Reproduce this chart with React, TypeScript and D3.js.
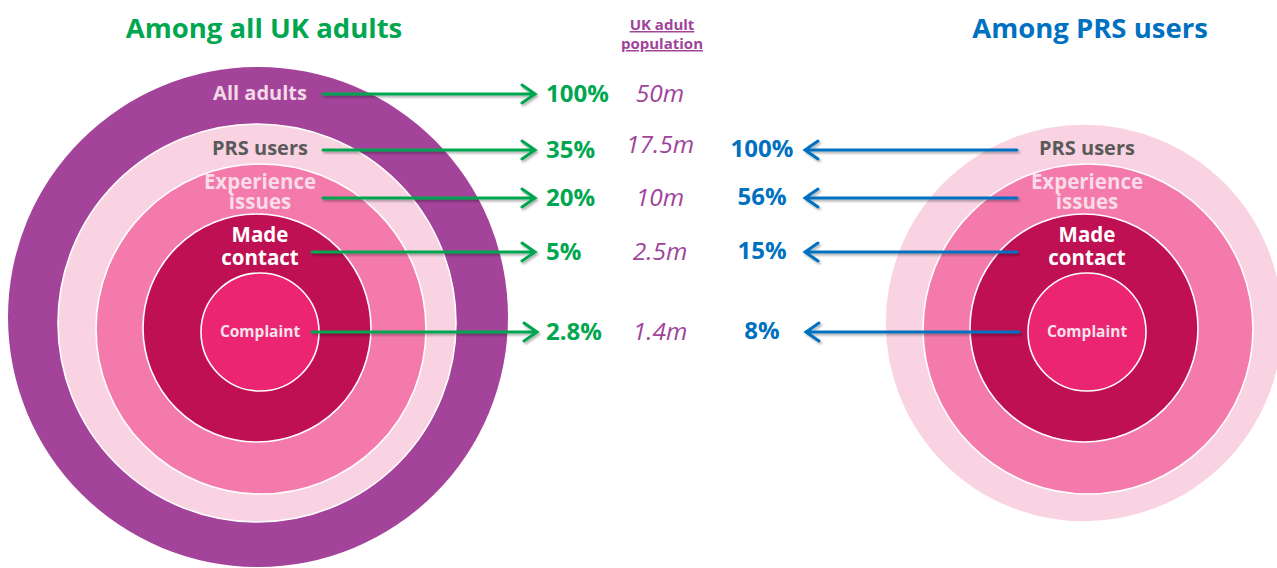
import React from "react";
import * as d3 from "d3";

// rings, from outer to inner
const ringLabels = [["All adults"], ["PRS users"], ["Experience", "issues"], ["Made", "contact"], ["Complaint"]];
const pctAllAdults = [100, 35, 20, 5, 2.8];
const populationM = [50, 17.5, 10, 2.5, 1.4];
const pctPrsUsers = [null, 100, 56, 15, 8];

const W = 1277;
const H = 568;
const FONT = "'Open Sans', 'DejaVu Sans', sans-serif";

// layout (hand placed, like the slide)
const ringR = [250, 199, 165, 114, 59];
const ringDx = [-2, -3, 1, -3, 0];
const ringDy = [-15, -9, -3, -4, 0];
const ringFill = ["#A3449A", "#FAD3E2", "#F37AAA", "#BE1052", "#EC2573"];
const labelFill = ["#F3D9E8", "#5A5A5A", "#FADCE8", "#FFFFFF", "#F8E2EC"];
const labelSize = [20, 20, 20.5, 20.5, 15.5];
const labelBase = [[100], [155], [189, 209], [242, 265], [337]];
const rowY = [94, 150, 198, 252, 332];
const textBase = [102, 158, 206, 260, 340];
const greenStart = [323, 323, 323, 312, 312];

const LEFT_CX = 260;
const RIGHT_CX = 1087;
const CY = 332;
const GREEN = "#00A650";
const BLUE = "#0070C0";
const PURPLE = "#A0449B";

const arrow = (x0: number, x1: number, y: number) => {
  const dir = x1 > x0 ? 1 : -1;
  const p = d3.path();
  p.moveTo(x0, y);
  p.lineTo(x1 - dir * 1.5, y);
  p.moveTo(x1 - dir * 13, y - 9);
  p.lineTo(x1, y);
  p.lineTo(x1 - dir * 13, y + 9);
  return p.toString();
};

const Rings = ({ cx, from }: { cx: number; from: number }) => (
  <g>
    {ringR.map((r, i) =>
      i < from ? null : (
        <circle
          key={i}
          cx={cx + ringDx[i]}
          cy={CY + ringDy[i]}
          r={r}
          fill={ringFill[i]}
          stroke={i === 0 ? "none" : "#fff"}
          strokeWidth={1.6}
        />
      )
    )}
    {ringLabels.map((lines, i) =>
      i < from ? null : (
        <text
          key={i}
          textAnchor="middle"
          fontFamily={FONT}
          fontWeight="bold"
          fontSize={labelSize[i]}
          fill={labelFill[i]}
        >
          {lines.map((l, j) => (
            <tspan key={j} x={cx} y={labelBase[i][j]}>
              {l}
            </tspan>
          ))}
        </text>
      )
    )}
  </g>
);

export default function App() {
  const fmtPct = (v: number) => `${v}%`;
  const fmtM = (v: number) => `${v}m`;

  return (
    <div style={{ position: "fixed", left: 0, top: 0 }}>
      <svg width={W} height={H} style={{ display: "block", background: "#fff" }}>
        <defs>
          <filter id="shadow" x="-10%" y="-50%" width="120%" height="250%">
            <feDropShadow dx="1.5" dy="2" stdDeviation="1.2" floodColor="#000" floodOpacity="0.3" />
          </filter>
        </defs>

        <Rings cx={LEFT_CX} from={0} />
        <Rings cx={RIGHT_CX} from={1} />

        {/* titles */}
        <text x={264} y={38} textAnchor="middle" fontFamily={FONT} fontWeight="bold" fontSize={27.5} fill={GREEN}>
          Among all UK adults
        </text>
        <text x={1090} y={38} textAnchor="middle" fontFamily={FONT} fontWeight="bold" fontSize={27.5} fill={BLUE}>
          Among PRS users
        </text>
        <text textAnchor="middle" fontFamily={FONT} fontWeight="bold" fontSize={15} fill={PURPLE} textDecoration="underline">
          <tspan x={662} y={30}>UK adult</tspan>
          <tspan x={662} y={49}>population</tspan>
        </text>

        {/* green arrows + values */}
        {pctAllAdults.map((v, i) => (
          <g key={"g" + i}>
            <path
              d={arrow(greenStart[i], i === 4 ? 537 : 535, rowY[i])}
              fill="none"
              stroke={GREEN}
              strokeWidth={3}
              strokeLinecap="round"
              strokeLinejoin="miter"
              filter="url(#shadow)"
            />
            <text x={546} y={textBase[i]} fontFamily={FONT} fontWeight="bold" fontSize={24} fill={GREEN}>
              {fmtPct(v)}
            </text>
            <text
              x={660}
              y={textBase[i] - (i === 1 ? 5 : 0)}
              textAnchor="middle"
              fontFamily={FONT}
              fontStyle="italic"
              fontSize={24.5}
              fill={PURPLE}
            >
              {fmtM(populationM[i])}
            </text>
          </g>
        ))}

        {/* blue arrows + values */}
        {pctPrsUsers.map((v, i) =>
          v == null ? null : (
            <g key={"b" + i}>
              <path
                d={arrow(i === 4 ? 1019 : 1017, i === 4 ? 806 : 805, rowY[i])}
                fill="none"
                stroke={BLUE}
                strokeWidth={3}
                strokeLinecap="round"
                strokeLinejoin="miter"
                filter="url(#shadow)"
              />
              <text x={762} y={textBase[i] - 1} textAnchor="middle" fontFamily={FONT} fontWeight="bold" fontSize={24} fill={BLUE}>
                {fmtPct(v)}
              </text>
            </g>
          )
        )}
      </svg>
    </div>
  );
}
